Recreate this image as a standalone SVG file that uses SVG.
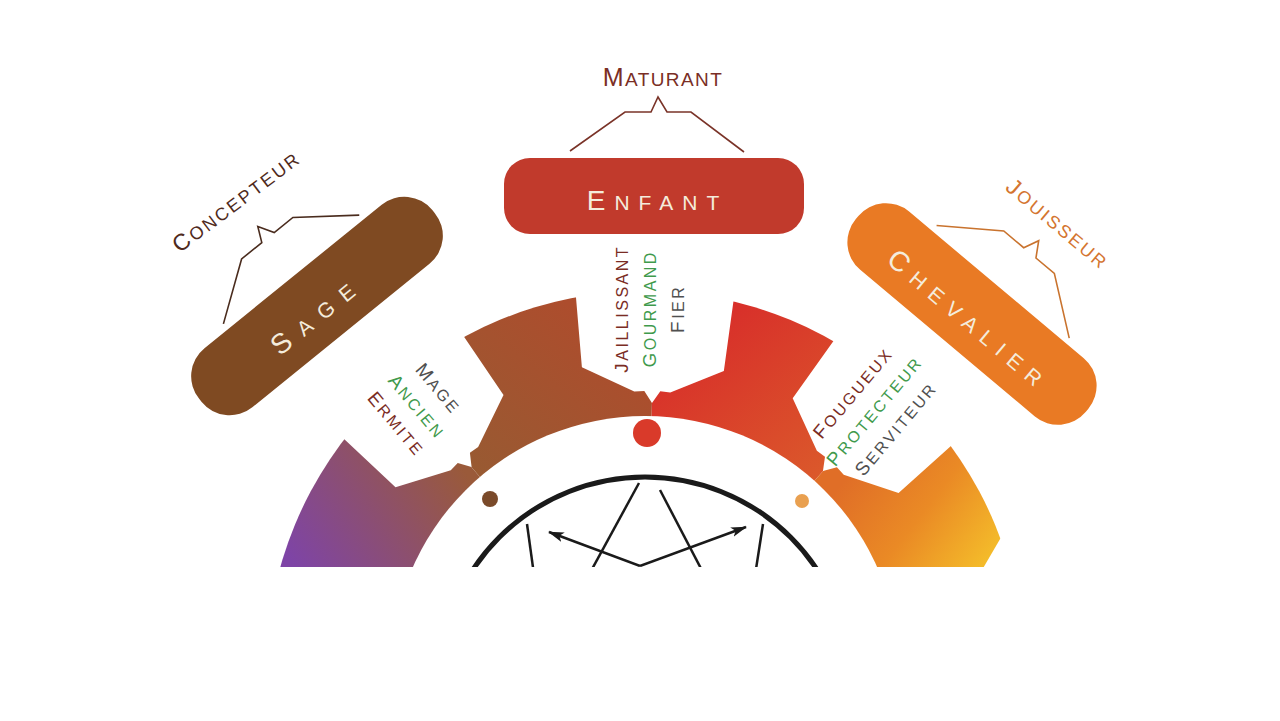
<svg xmlns="http://www.w3.org/2000/svg" width="1280" height="721" viewBox="0 0 1280 721">
<defs>
<style>
.lbl{font-family:"Liberation Sans",Arial,sans-serif;font-size:16px;letter-spacing:2.5px;text-anchor:middle}
.lbl .big{font-size:19px}
.brn{fill:#7a2c24}
.grn{fill:#3f9a4c}
.gry{fill:#505050}
.pt{font-family:"Liberation Sans",Arial,sans-serif;font-size:21px;fill:#f4ecdc;text-anchor:middle}
.pt .big{font-size:28px}
.tt{font-family:"Liberation Sans",Arial,sans-serif;font-size:18px;letter-spacing:2.4px;text-anchor:middle}
.tt .big{font-size:23px}
.br{fill:none;stroke-width:1.6}
.ln{stroke:#1a1a1a;stroke-width:2.5;fill:none}
</style>
<path id="brk" d="M-84,-45 L-29,-84 L-3,-84 L4,-99 L13,-84 L37,-84 L90,-44"/>
<path id="notch" d="M-85,-427 L-71,-301 L-18,-278 L-8,-279 L0,-267 L8,-279 L18,-278 L71,-301 L85,-427 Z"/>
<marker id="ah" viewBox="0 0 16 10" refX="15" refY="5" markerWidth="16" markerHeight="10" markerUnits="userSpaceOnUse" orient="auto">
<path d="M0,0 L16,5 L0,10 L4,5 Z" fill="#1a1a1a"/>
</marker>
<linearGradient id="gPur" gradientUnits="userSpaceOnUse" x1="290" y1="560" x2="450" y2="450">
<stop offset="0" stop-color="#7e44a6"/><stop offset="1" stop-color="#9a5a3a"/>
</linearGradient>
<linearGradient id="gBrn" gradientUnits="userSpaceOnUse" x1="470" y1="470" x2="590" y2="320">
<stop offset="0" stop-color="#985a32"/><stop offset="1" stop-color="#ad4d2d"/>
</linearGradient>
<linearGradient id="gRed" gradientUnits="userSpaceOnUse" x1="720" y1="320" x2="840" y2="470">
<stop offset="0" stop-color="#d8302a"/><stop offset="1" stop-color="#db5a2b"/>
</linearGradient>
<linearGradient id="gOra" gradientUnits="userSpaceOnUse" x1="860" y1="460" x2="990" y2="560">
<stop offset="0" stop-color="#e06e27"/><stop offset="0.5" stop-color="#ea8a25"/><stop offset="1" stop-color="#f4bc2a"/>
</linearGradient>
<mask id="ringMask" maskUnits="userSpaceOnUse" x="0" y="0" width="1280" height="721">
<circle cx="645" cy="670" r="379" fill="#fff"/>
<circle cx="645" cy="670" r="254" fill="#000"/>
<use href="#notch" fill="#000" transform="translate(645,670) rotate(1.5)"/>
<use href="#notch" fill="#000" transform="translate(645,670) rotate(-40.5)"/>
<use href="#notch" fill="#000" transform="translate(645,670) rotate(41.8)"/>
<rect x="0" y="567" width="1280" height="160" fill="#000"/>
<polygon points="1003,534 982,570 1100,570 1100,534" fill="#000"/>
</mask>
<clipPath id="cut"><rect x="0" y="0" width="1280" height="567"/></clipPath>
</defs>
<rect width="1280" height="721" fill="#fff"/>

<g id="ring" mask="url(#ringMask)">
<polygon points="645,670 152,757 100,290 320,290" fill="url(#gPur)"/>
<polygon points="645,670 320,290 658,170" fill="url(#gBrn)"/>
<polygon points="645,670 658,170 978,298" fill="url(#gRed)"/>
<polygon points="645,670 978,298 1190,290 1137,757" fill="url(#gOra)"/>
</g>

<g id="dots">
<circle cx="490" cy="499" r="8" fill="#7a4a2a"/>
<circle cx="647" cy="433" r="14" fill="#d93a2a"/>
<circle cx="802" cy="501" r="7" fill="#e9a050"/>
</g>

<g id="center-figure" clip-path="url(#cut)">
<circle cx="645" cy="683" r="206" fill="none" stroke="#1a1a1a" stroke-width="5"/>
</g>

<g id="connectors" clip-path="url(#cut)">
<line class="ln" x1="639" y1="483" x2="585" y2="582"/>
<line class="ln" x1="660" y1="490" x2="708" y2="582"/>
<line class="ln" x1="527" y1="524" x2="535" y2="582"/>
<line class="ln" x1="763" y1="524" x2="754" y2="582"/>
<line class="ln" x1="640" y1="566" x2="549" y2="532" marker-end="url(#ah)"/>
<line class="ln" x1="640" y1="566" x2="746" y2="527" marker-end="url(#ah)"/>
</g>

<g id="labels-top">
<text class="lbl brn" transform="translate(628,310) rotate(-90)" x="1.2"><tspan class="big">J</tspan>AILLISSANT</text>
<text class="lbl grn" transform="translate(656,310) rotate(-90)" x="1.2"><tspan class="big">G</tspan>OURMAND</text>
<text class="lbl gry" transform="translate(684,310) rotate(-90)" x="1.2"><tspan class="big">F</tspan>IER</text>
</g>
<g id="labels-left" transform="translate(416,406) rotate(50)">
<text class="lbl gry" x="1.2" y="-22"><tspan class="big">M</tspan>AGE</text>
<text class="lbl grn" x="1.2" y="6"><tspan class="big">A</tspan>NCIEN</text>
<text class="lbl brn" x="1.2" y="33"><tspan class="big">E</tspan>RMITE</text>
</g>
<g id="labels-right" transform="translate(874,412) rotate(-50)">
<text class="lbl brn" x="1.2" y="-22"><tspan class="big">F</tspan>OUGUEUX</text>
<text class="lbl grn" x="1.2" y="6"><tspan class="big">P</tspan>ROTECTEUR</text>
<text class="lbl gry" x="1.2" y="34"><tspan class="big">S</tspan>ERVITEUR</text>
</g>

<g id="enfant">
<g transform="translate(654,196)">
<rect x="-150" y="-38" width="300" height="76" rx="26" fill="#c13a2c"/>
<text class="pt" x="3.5" y="14" letter-spacing="9"><tspan class="big">E</tspan>NFANT</text>
<use href="#brk" class="br" stroke="#7a3328"/>
</g>
<text x="663" y="86" font-family="Liberation Sans, Arial, sans-serif" font-size="19" letter-spacing="1.4" text-anchor="middle" fill="#7a2e25"><tspan font-size="25">M</tspan>ATURANT</text>
</g>

<g id="sage">
<g transform="translate(317,306) rotate(-39)">
<rect x="-150" y="-38" width="300" height="76" rx="36" fill="#7f4a22"/>
<text class="pt" x="-5" y="16" letter-spacing="12"><tspan class="big">S</tspan>AGE</text>
<use href="#brk" class="br" stroke="#4a2c1e"/>
</g>
<text class="tt" fill="#4f2a1c" transform="translate(240,208) rotate(-37)" x="1.2"><tspan class="big">C</tspan>ONCEPTEUR</text>
</g>

<g id="chevalier">
<g transform="translate(972,314) rotate(40)">
<rect x="-150" y="-38" width="300" height="76" rx="36" fill="#e97a24"/>
<text class="pt" x="2" y="16" letter-spacing="9"><tspan class="big">C</tspan>HEVALIER</text>
<use href="#brk" class="br" stroke="#c9732e"/>
</g>
<text class="tt" fill="#d47530" transform="translate(1052,229) rotate(40)" x="1.2"><tspan class="big">J</tspan>OUISSEUR</text>
</g>
</svg>
